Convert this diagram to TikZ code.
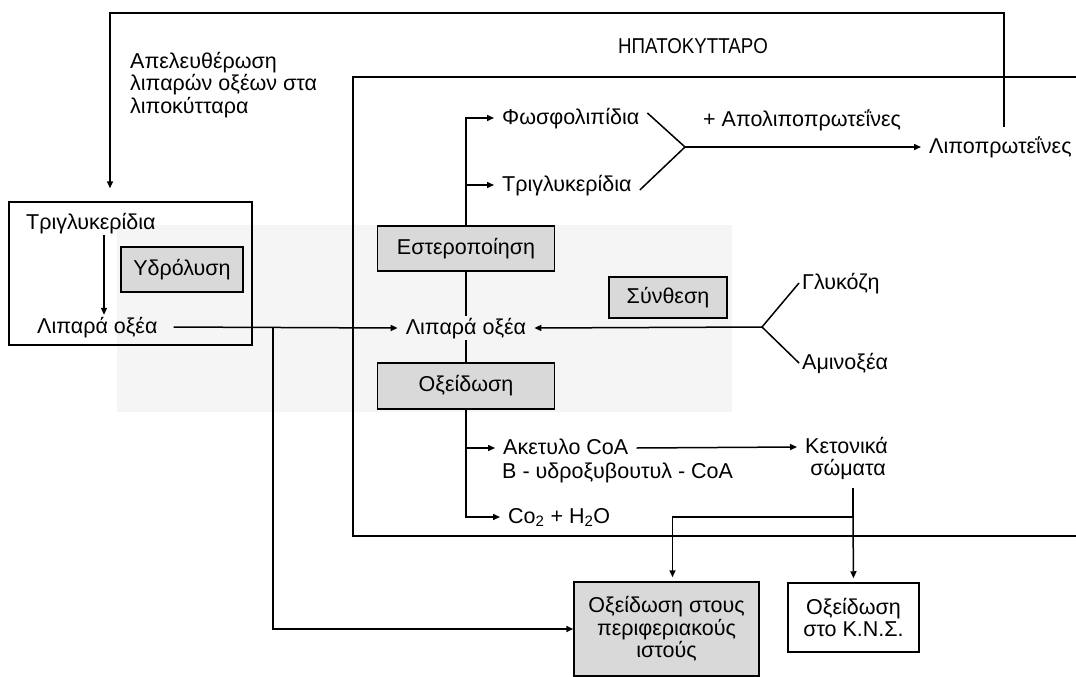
\documentclass[tikz,border=0pt]{standalone}
\usepackage{fontspec}
\setmainfont{Liberation Sans}
\usetikzlibrary{arrows.meta}
\begin{document}
\begin{tikzpicture}[x=1pt,y=-1pt,
  every node/.style={font=\fontsize{21.5}{22.5}\selectfont},
  lbl/.style={inner xsep=8pt, inner ysep=2pt, text height=16pt, text depth=4pt, anchor=west},
  ln/.style={line width=1.5pt},
  arr/.style={ln, -{Triangle[length=7pt,width=6pt]}},
  gbox/.style={draw, line width=1.5pt, fill=black!15, inner sep=0pt, align=center},
  wbox/.style={draw, line width=1.5pt, fill=white, inner sep=0pt, align=center},
]
\useasboundingbox (0,0) rectangle (1076,677);
% faint background
\fill[black!4] (117,225) rectangle (732,412);

% adipocyte box and hepatocyte frame
\node[draw, line width=1.5pt, minimum width=243pt, minimum height=143pt, inner sep=0pt] (adipo) at (130.5,273.5) {};
\draw[ln] (1076,77) -| (353,536) -- (1076,536);

% texts
\node[anchor=north west, align=left, inner sep=0pt] (release) at (130,52) {Απελευθέρωση\\λιπαρών οξέων στα\\λιποκύτταρα};
\node[lbl, anchor=east] (hep) at (776,48) {\scalebox{0.87}[1]{ΗΠΑΤΟΚΥΤΤΑΡΟ}};

\node[lbl] (tgL) at (18,223) {Τριγλυκερίδια};
\node[gbox, minimum width=122pt, minimum height=45pt] (hydro) at (182,269.5) {Υδρόλυση};
\node[lbl] (lipL) at (29,327) {Λιπαρά οξέα};

\node[gbox, minimum width=177pt, minimum height=45pt] (ester) at (466,248.5) {Εστεροποίηση};
\node[lbl, anchor=center] (lipC) at (466,328) {Λιπαρά οξέα};
\node[gbox, minimum width=177pt, minimum height=46pt] (oxid) at (466,386) {Οξείδωση};
\node[gbox, minimum width=118pt, minimum height=41pt] (synth) at (668,297.5) {Σύνθεση};

\node[lbl] (phos) at (494,118) {Φωσφολιπίδια};
\node[lbl] (tgH) at (494,185) {Τριγλυκερίδια};
\node[lbl] (apo) at (695,120) {+ Απολιποπρωτεΐνες};
\node[lbl] (lipo) at (921,147) {Λιποπρωτεΐνες};
\node[lbl, inner xsep=3pt] (gluc) at (799,283) {Γλυκόζη};
\node[lbl, inner xsep=3pt] (amino) at (799,363) {Αμινοξέα};

\node[lbl] (acetyl) at (495,448) {Ακετυλο CoA};
\node[lbl] (hydroxy) at (494,472) {B - υδροξυβουτυλ - CoA};
\node[lbl] (keto1) at (797,447) {Κετονικά};
\node[lbl, anchor=center] (keto2) at (848,469) {σώματα};
\node[lbl] (co2) at (500,517) {Co\textsubscript{2} + H\textsubscript{2}O};

\node[gbox, minimum width=185pt, minimum height=94pt] (periph) at (666.5,629) {Οξείδωση στους\\περιφεριακούς\\ιστούς};
\node[wbox, minimum width=131pt, minimum height=69pt] (cns) at (853.5,617.5) {Οξείδωση\\στο Κ.Ν.Σ.};

% coordinates
\coordinate (tl) at (110,13);
\coordinate (tr) at (1004,13);
\coordinate (hx) at (104,0);
\coordinate (fork) at (685,147);
\coordinate (rfork) at (762,327);
\coordinate (lj) at (273,327);
\coordinate (kj) at (853,517);

% connectors
\draw[arr, shorten <=8pt, shorten >=13pt] (tr |- lipo.north) -- (tr) -- (tl) -- (tl |- adipo.north);
\draw[arr] (tgL.south -| hx) -- (lipL.north -| hx);
\draw[arr, shorten <=8pt] (lipL.east) -- (lipC.west);
\draw[arr] (lj) |- (periph.west);

\draw[arr] (ester.north) |- (phos.west);
\draw[arr] (ester.north) |- (tgH.west);
\draw[ln] (ester.south) -- (lipC.north);
\draw[ln] (lipC.south) -- (oxid.north);
\draw[arr] (oxid.south) |- (acetyl.west);
\draw[arr] (oxid.south) |- (co2.west);

\draw[ln] ([yshift=5pt]phos.east) -- (fork) -- ([yshift=-5pt]tgH.east);
\draw[arr] (fork) -- (lipo.west);
\draw[ln] (gluc.west) -- (rfork) -- (amino.west);
\draw[arr] (rfork) -- (lipC.east);

\draw[arr] (acetyl.east) -- (keto1.west);
\draw[ln, shorten <=7pt] (kj |- keto2.south) -- (kj);
\draw[arr, shorten >=4pt] (kj) -- (cns.north);
\draw[arr, shorten >=4pt] (kj) -| ([xshift=6pt]periph.north);
\end{tikzpicture}
\end{document}
